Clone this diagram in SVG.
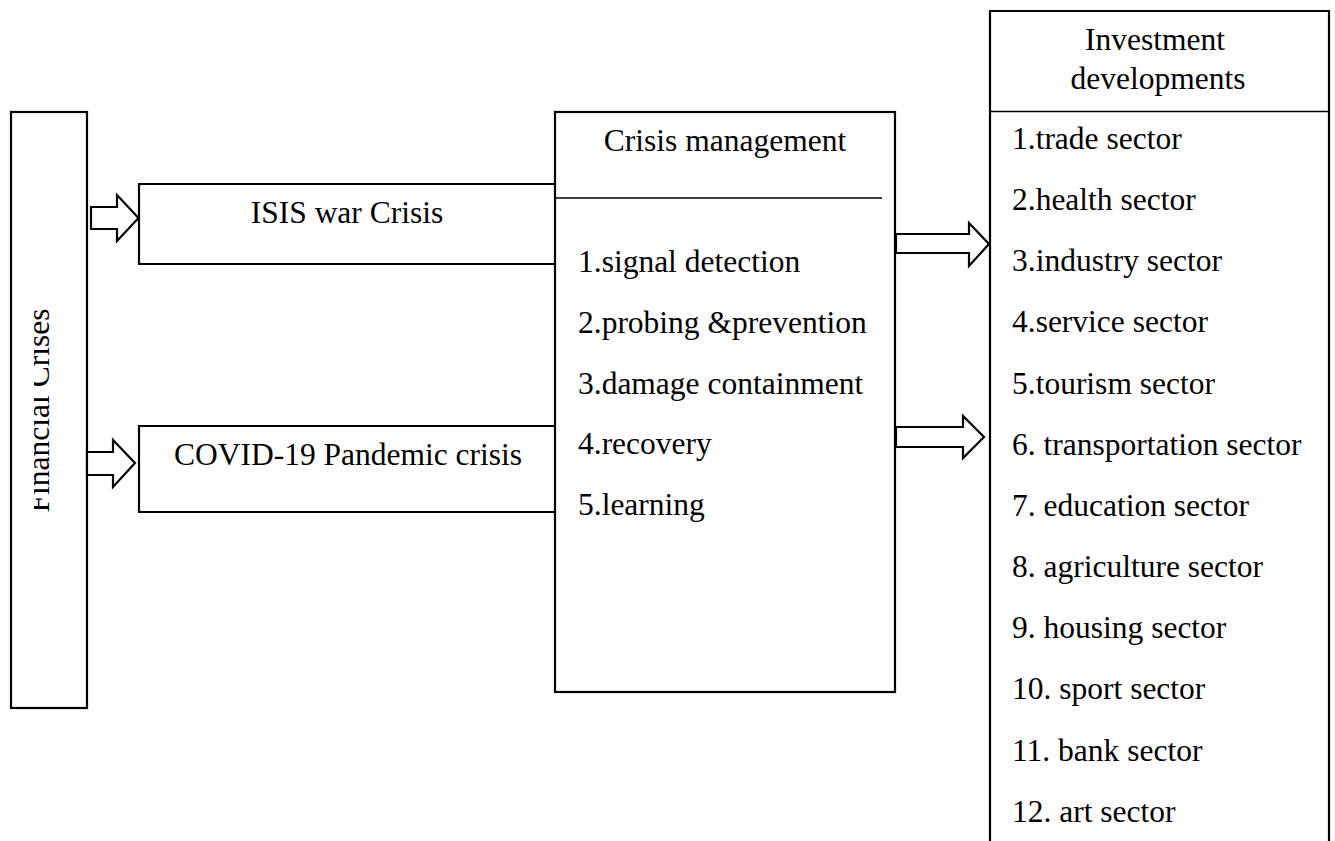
<svg xmlns="http://www.w3.org/2000/svg" width="1335" height="841" viewBox="0 0 1335 841">
<style>
.box{fill:#fff;stroke:#000;stroke-width:2.2}
.ln{fill:none;stroke:#000;stroke-width:2.2}
.sep{fill:none;stroke:#000;stroke-width:1.6}
.arr{fill:#fff;stroke:#000;stroke-width:2.2;stroke-linejoin:miter}
text{font-family:"Liberation Serif","Times New Roman",serif;font-size:31.5px;fill:#000}
.c{text-anchor:middle}
</style>
<defs>
<clipPath id="clipFin"><rect x="34" y="112" width="54" height="596"/></clipPath>
</defs>
<rect width="1335" height="841" fill="#fff"/>

<g id="financial-crises">
<rect class="box" x="11" y="112" width="76" height="596"/>
<g clip-path="url(#clipFin)">
<text class="c" transform="translate(49,410.5) rotate(-90)">Financial Crises</text>
</g>
</g>

<g id="isis-war-crisis">
<path class="ln" d="M555,184 H139 V264 H555"/>
<text class="c" x="347" y="223">ISIS war Crisis</text>
</g>

<g id="covid-crisis">
<path class="ln" d="M555,426 H139 V512 H555"/>
<text class="c" x="348" y="465">COVID-19 Pandemic crisis</text>
</g>

<g id="crisis-management">
<rect class="box" x="555" y="112" width="340" height="580"/>
<line class="sep" x1="555" y1="198" x2="882" y2="198"/>
<text class="c" x="725" y="151">Crisis management</text>
<text x="578" y="272">1.signal detection</text>
<text x="578" y="332.75">2.probing &amp;prevention</text>
<text x="578" y="393.5">3.damage containment</text>
<text x="578" y="454.25">4.recovery</text>
<text x="578" y="515">5.learning</text>
</g>

<g id="investment-developments">
<path class="ln" d="M990,845 V11 H1329 V845"/>
<line class="sep" x1="990" y1="111.5" x2="1329" y2="111.5"/>
<text class="c" x="1155" y="50">Investment</text>
<text class="c" x="1158" y="89">developments</text>
<text x="1012" y="149">1.trade sector</text>
<text x="1012" y="210.15">2.health sector</text>
<text x="1012" y="271.3">3.industry sector</text>
<text x="1012" y="332.45">4.service sector</text>
<text x="1012" y="393.6">5.tourism sector</text>
<text x="1012" y="454.75">6. transportation sector</text>
<text x="1012" y="515.9">7. education sector</text>
<text x="1012" y="577.05">8. agriculture sector</text>
<text x="1012" y="638.2">9. housing sector</text>
<text x="1012" y="699.35">10. sport sector</text>
<text x="1012" y="760.5">11. bank sector</text>
<text x="1012" y="821.65">12. art sector</text>
</g>

<g id="connectors">
<polygon class="arr" points="91,207 117,207 117,195 138.5,218 117,241 117,229 91,229"/>
<polygon class="arr" points="87,452 113,452 113,440 135,463 113,487 113,475 87,475"/>
<polygon class="arr" points="896,234 969,234 969,223 989,244 969,266 969,253 896,253"/>
<polygon class="arr" points="896,427 963,427 963,416 984,437 963,458 963,447 896,447"/>
</g>
</svg>
